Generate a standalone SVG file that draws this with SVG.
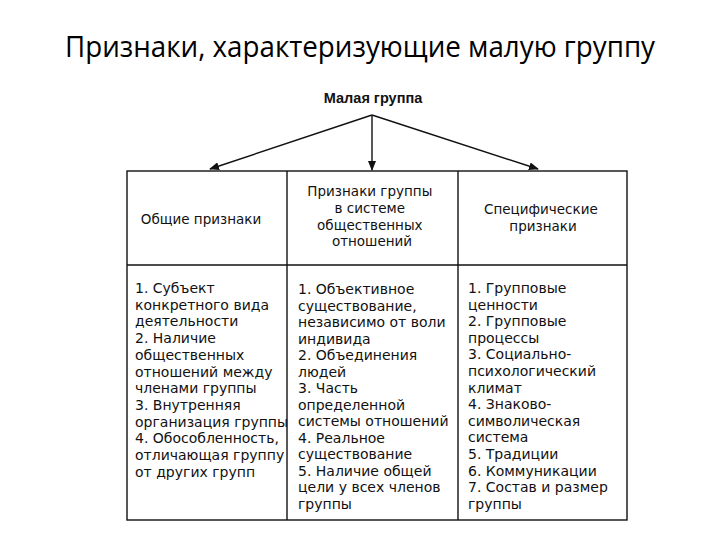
<svg xmlns="http://www.w3.org/2000/svg" width="720" height="540" viewBox="0 0 720 540">
<style>
.t{font-family:"DejaVu Sans","Liberation Sans",Arial,sans-serif;font-size:14px;fill:#111}
.hd{font-size:13.5px}
.h{text-anchor:middle}
.ln{stroke:#111;stroke-width:1.4;fill:none}
</style>
<defs>
<marker id="ah" markerWidth="10" markerHeight="8" refX="9" refY="4" orient="auto" markerUnits="userSpaceOnUse">
<path d="M0,0 L10,4 L0,8 z" fill="#111"/>
</marker>
</defs>
<rect width="720" height="540" fill="#fff"/>
<text x="360" y="57" text-anchor="middle" font-family="Open Sans,'Noto Sans',sans-serif" font-size="30" fill="#000" textLength="590" lengthAdjust="spacingAndGlyphs">Признаки, характеризующие малую группу</text>
<g id="root">
<text x="373" y="103" class="t h" font-family="Liberation Sans,Arial,sans-serif" font-weight="bold" style="font-family:'Liberation Sans',Arial,sans-serif;font-size:14.5px">Малая группа</text>
</g>
<g id="connectors">
<line x1="372" y1="115" x2="210" y2="169" class="ln" marker-end="url(#ah)"/>
<line x1="372" y1="115" x2="372" y2="170" class="ln" marker-end="url(#ah)"/>
<line x1="372" y1="115" x2="538" y2="169" class="ln" marker-end="url(#ah)"/>
</g>
<g id="table">
<rect x="127" y="171" width="500" height="349" class="ln"/>
<line x1="287" y1="171" x2="287" y2="520" class="ln"/>
<line x1="458" y1="171" x2="458" y2="520" class="ln"/>
<line x1="127" y1="265" x2="627" y2="265" class="ln"/>
</g>
<g id="col1">
<text x="201" y="224" class="t hd h">Общие признаки</text>
<text class="t" x="135" y="293">
<tspan x="135">1. Субъект</tspan>
<tspan x="135" dy="16.7">конкретного вида</tspan>
<tspan x="135" dy="16.7">деятельности</tspan>
<tspan x="135" dy="16.7">2. Наличие</tspan>
<tspan x="135" dy="16.7">общественных</tspan>
<tspan x="135" dy="16.7">отношений между</tspan>
<tspan x="135" dy="16.7">членами группы</tspan>
<tspan x="135" dy="16.7">3. Внутренняя</tspan>
<tspan x="135" dy="16.7">организация группы</tspan>
<tspan x="135" dy="16.7">4. Обособленность,</tspan>
<tspan x="135" dy="16.7">отличающая группу</tspan>
<tspan x="135" dy="16.7">от других групп</tspan>
</text>
</g>
<g id="col2">
<text class="t hd h" x="372" y="196">
<tspan x="372">Признаки группы</tspan>
<tspan x="372" dy="16.8">в системе</tspan>
<tspan x="372" dy="16.8">общественных</tspan>
<tspan x="372" dy="16.8">отношений</tspan>
</text>
<text class="t" x="298" y="294">
<tspan x="298">1. Объективное</tspan>
<tspan x="298" dy="16.5">существование,</tspan>
<tspan x="298" dy="16.5">независимо от воли</tspan>
<tspan x="298" dy="16.5">индивида</tspan>
<tspan x="298" dy="16.5">2. Объединения</tspan>
<tspan x="298" dy="16.5">людей</tspan>
<tspan x="298" dy="16.5">3. Часть</tspan>
<tspan x="298" dy="16.5">определенной</tspan>
<tspan x="298" dy="16.5">системы отношений</tspan>
<tspan x="298" dy="16.5">4. Реальное</tspan>
<tspan x="298" dy="16.5">существование</tspan>
<tspan x="298" dy="16.5">5. Наличие общей</tspan>
<tspan x="298" dy="16.5">цели у всех членов</tspan>
<tspan x="298" dy="16.5">группы</tspan>
</text>
</g>
<g id="col3">
<text class="t hd h" x="543" y="214">
<tspan x="543">Специфические</tspan>
<tspan x="543" dy="17">признаки</tspan>
</text>
<text class="t" x="468" y="293">
<tspan x="468">1. Групповые</tspan>
<tspan x="468" dy="16.6">ценности</tspan>
<tspan x="468" dy="16.6">2. Групповые</tspan>
<tspan x="468" dy="16.6">процессы</tspan>
<tspan x="468" dy="16.6">3. Социально-</tspan>
<tspan x="468" dy="16.6">психологический</tspan>
<tspan x="468" dy="16.6">климат</tspan>
<tspan x="468" dy="16.6">4. Знаково-</tspan>
<tspan x="468" dy="16.6">символическая</tspan>
<tspan x="468" dy="16.6">система</tspan>
<tspan x="468" dy="16.6">5. Традиции</tspan>
<tspan x="468" dy="16.6">6. Коммуникации</tspan>
<tspan x="468" dy="16.6">7. Состав и размер</tspan>
<tspan x="468" dy="16.6">группы</tspan>
</text>
</g>
</svg>
